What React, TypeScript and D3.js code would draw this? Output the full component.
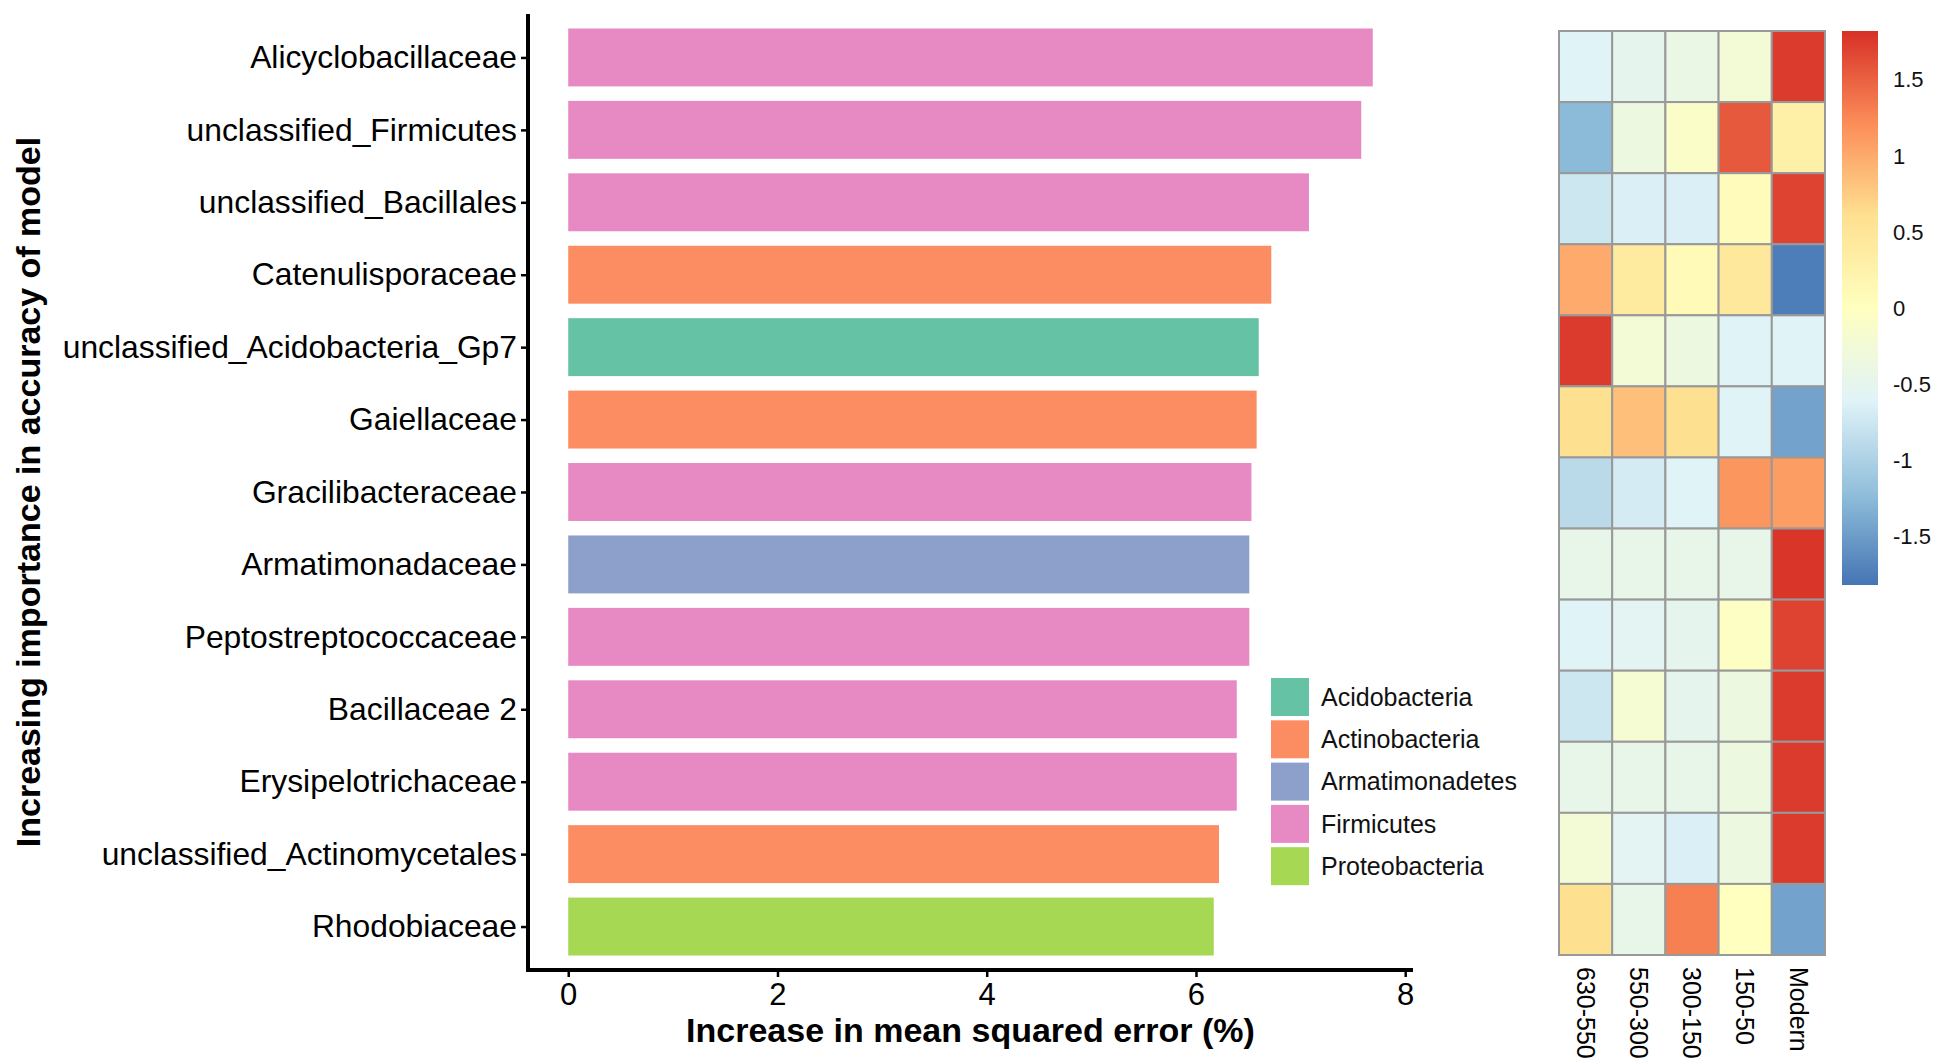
import * as d3 from "d3";
import { useEffect, useRef } from "react";

// ===== Data =====
const taxa = [
  "Alicyclobacillaceae",
  "unclassified_Firmicutes",
  "unclassified_Bacillales",
  "Catenulisporaceae",
  "unclassified_Acidobacteria_Gp7",
  "Gaiellaceae",
  "Gracilibacteraceae",
  "Armatimonadaceae",
  "Peptostreptococcaceae",
  "Bacillaceae 2",
  "Erysipelotrichaceae",
  "unclassified_Actinomycetales",
  "Rhodobiaceae",
];

// %IncMSE per taxon
const importance = [7.69, 7.58, 7.08, 6.72, 6.6, 6.58, 6.53, 6.51, 6.51, 6.39, 6.39, 6.22, 6.17];

const phylumOf = [
  "Firmicutes",
  "Firmicutes",
  "Firmicutes",
  "Actinobacteria",
  "Acidobacteria",
  "Actinobacteria",
  "Firmicutes",
  "Armatimonadetes",
  "Firmicutes",
  "Firmicutes",
  "Firmicutes",
  "Actinobacteria",
  "Proteobacteria",
];

const phyla = ["Acidobacteria", "Actinobacteria", "Armatimonadetes", "Firmicutes", "Proteobacteria"];
const phylumColors = ["#66c2a5", "#fc8d62", "#8da0cb", "#e78ac3", "#a6d854"];

const xTicks = [0, 2, 4, 6, 8];

const periods = ["630-550", "550-300", "300-150", "150-50", "Modern"];

// row-scaled abundance, one row per taxon, columns follow periods
const zscores = [
  [-0.6, -0.5, -0.4, -0.25, 1.75],
  [-1.25, -0.35, -0.1, 1.55, 0.3],
  [-0.75, -0.65, -0.65, 0.05, 1.7],
  [1.0, 0.4, 0.1, 0.45, -1.75],
  [1.75, -0.25, -0.35, -0.6, -0.6],
  [0.6, 0.85, 0.6, -0.6, -1.45],
  [-0.9, -0.7, -0.6, 1.15, 1.1],
  [-0.45, -0.45, -0.45, -0.45, 1.79],
  [-0.6, -0.55, -0.5, -0.05, 1.7],
  [-0.75, -0.2, -0.5, -0.35, 1.75],
  [-0.45, -0.45, -0.45, -0.35, 1.75],
  [-0.25, -0.55, -0.65, -0.35, 1.75],
  [0.6, -0.45, 1.3, 0.0, -1.45],
];

const legendTicks = [1.5, 1, 0.5, 0, -0.5, -1, -1.5];

const palette = ["#4575b4", "#91bfdb", "#e0f3f8", "#ffffbf", "#fee090", "#fc8d59", "#d73027"];

export default function App({ width = 1950, height = 1064 }) {
  const ref = useRef<SVGSVGElement | null>(null);

  useEffect(() => {
    const svg = d3.select(ref.current);
    svg.selectAll("*").remove();
    svg.attr("width", width).attr("height", height);

    const font = "'Liberation Sans', Arial, sans-serif";

    // ===== Bar panel scales =====
    const maxVal = d3.max(importance)!;
    const x = d3
      .scaleLinear()
      .domain([-0.05 * maxVal, maxVal * 1.05])
      .range([528, 1413]);

    const y = d3.scalePoint<string>().domain(taxa).range([14, 970]).padding(0.6);
    const barH = y.step() * 0.8;

    const fill = d3.scaleOrdinal<string, string>().domain(phyla).range(phylumColors);

    const bars = svg.append("g");
    bars
      .selectAll("rect")
      .data(taxa)
      .enter()
      .append("rect")
      .attr("x", x(0))
      .attr("y", (d) => y(d)! - barH / 2)
      .attr("width", (d, i) => x(importance[i]) - x(0))
      .attr("height", barH)
      .attr("fill", (d, i) => fill(phylumOf[i]));

    // ===== Axes =====
    const yAxis = svg
      .append("g")
      .attr("transform", `translate(${x.range()[0]},0)`)
      .call(d3.axisLeft(y).tickSize(7).tickPadding(4));
    yAxis.select(".domain").attr("stroke-width", 4).attr("d", `M0,${y.range()[0]}V${y.range()[1] + 2}`);
    yAxis.selectAll(".tick line").attr("stroke-width", 2.5);
    yAxis
      .selectAll("text")
      .style("font-family", font)
      .style("font-size", "31.8px")
      .attr("fill", "#000");

    const xAxis = svg
      .append("g")
      .attr("transform", `translate(0,${y.range()[1]})`)
      .call(d3.axisBottom(x).tickValues(xTicks).tickSize(7).tickPadding(6));
    xAxis.select(".domain").attr("stroke-width", 4).attr("d", `M${x.range()[0] - 2},0H${x.range()[1]}`);
    xAxis.selectAll(".tick line").attr("stroke-width", 2.5);
    xAxis
      .selectAll("text")
      .style("font-family", font)
      .style("font-size", "31px")
      .attr("fill", "#000");

    svg
      .append("text")
      .attr("x", (x.range()[0] + x.range()[1]) / 2)
      .attr("y", 1042)
      .attr("text-anchor", "middle")
      .style("font-family", font)
      .style("font-size", "34px")
      .style("font-weight", "bold")
      .text("Increase in mean squared error (%)");

    svg
      .append("text")
      .attr("transform", `translate(40,${(y.range()[0] + y.range()[1]) / 2}) rotate(-90)`)
      .attr("text-anchor", "middle")
      .style("font-family", font)
      .style("font-size", "34px")
      .style("font-weight", "bold")
      .text("Increasing importance in accuracy of model");

    // ===== Legend =====
    const legend = svg.append("g").attr("transform", "translate(1271,678)");
    phyla.forEach((p, i) => {
      legend
        .append("rect")
        .attr("x", 0)
        .attr("y", i * 42.3)
        .attr("width", 38)
        .attr("height", 38)
        .attr("fill", fill(p));
      legend
        .append("text")
        .attr("x", 50)
        .attr("y", i * 42.3 + 19)
        .attr("dy", "0.35em")
        .style("font-family", font)
        .style("font-size", "25px")
        .attr("fill", "#111")
        .text(p);
    });

    // ===== Heatmap =====
    const zMax = 1.82;
    const color = d3
      .scaleLinear<string>()
      .domain(d3.range(palette.length).map((i) => -zMax + (i * 2 * zMax) / (palette.length - 1)))
      .range(palette)
      .interpolate(d3.interpolateRgb)
      .clamp(true);

    const hx = d3.scaleBand().domain(periods).range([1559, 1825]);
    const hy = d3.scaleBand().domain(taxa).range([31, 955]);

    const heat = svg.append("g");
    taxa.forEach((t, r) => {
      heat
        .selectAll(null)
        .data(zscores[r])
        .enter()
        .append("rect")
        .attr("x", (d, c) => hx(periods[c])!)
        .attr("y", hy(t)!)
        .attr("width", hx.bandwidth())
        .attr("height", hy.bandwidth())
        .attr("fill", (d) => color(d))
        .attr("stroke", "#999999")
        .attr("stroke-width", 2);
    });

    heat
      .selectAll("text")
      .data(periods)
      .enter()
      .append("text")
      .attr("transform", (d) => `translate(${hx(d)! + hx.bandwidth() / 2},${hy.range()[1] + 12}) rotate(90)`)
      .attr("dy", "0.35em")
      .style("font-family", font)
      .style("font-size", "25px")
      .attr("fill", "#000")
      .text((d) => d);

    // ===== Colour key =====
    const defs = svg.append("defs");
    const grad = defs
      .append("linearGradient")
      .attr("id", "zGrad")
      .attr("x1", "0%")
      .attr("y1", "100%")
      .attr("x2", "0%")
      .attr("y2", "0%");
    palette.forEach((c, i) => {
      grad
        .append("stop")
        .attr("offset", `${(i / (palette.length - 1)) * 100}%`)
        .attr("stop-color", c);
    });

    const ky = d3.scaleLinear().domain([-zMax, zMax]).range([585, 31]);
    svg
      .append("rect")
      .attr("x", 1842)
      .attr("y", ky(zMax))
      .attr("width", 36)
      .attr("height", ky(-zMax) - ky(zMax))
      .attr("fill", "url(#zGrad)");

    svg
      .append("g")
      .selectAll("text")
      .data(legendTicks)
      .enter()
      .append("text")
      .attr("x", 1893)
      .attr("y", (d) => ky(d))
      .attr("dy", "0.35em")
      .style("font-family", font)
      .style("font-size", "22px")
      .attr("fill", "#111")
      .text((d) => `${d}`);
  }, [width, height]);

  return (
    <svg ref={ref} style={{ position: "absolute", left: 0, top: 0, background: "#fff" }}>
      <title>Variable importance and heatmap</title>
    </svg>
  );
}
